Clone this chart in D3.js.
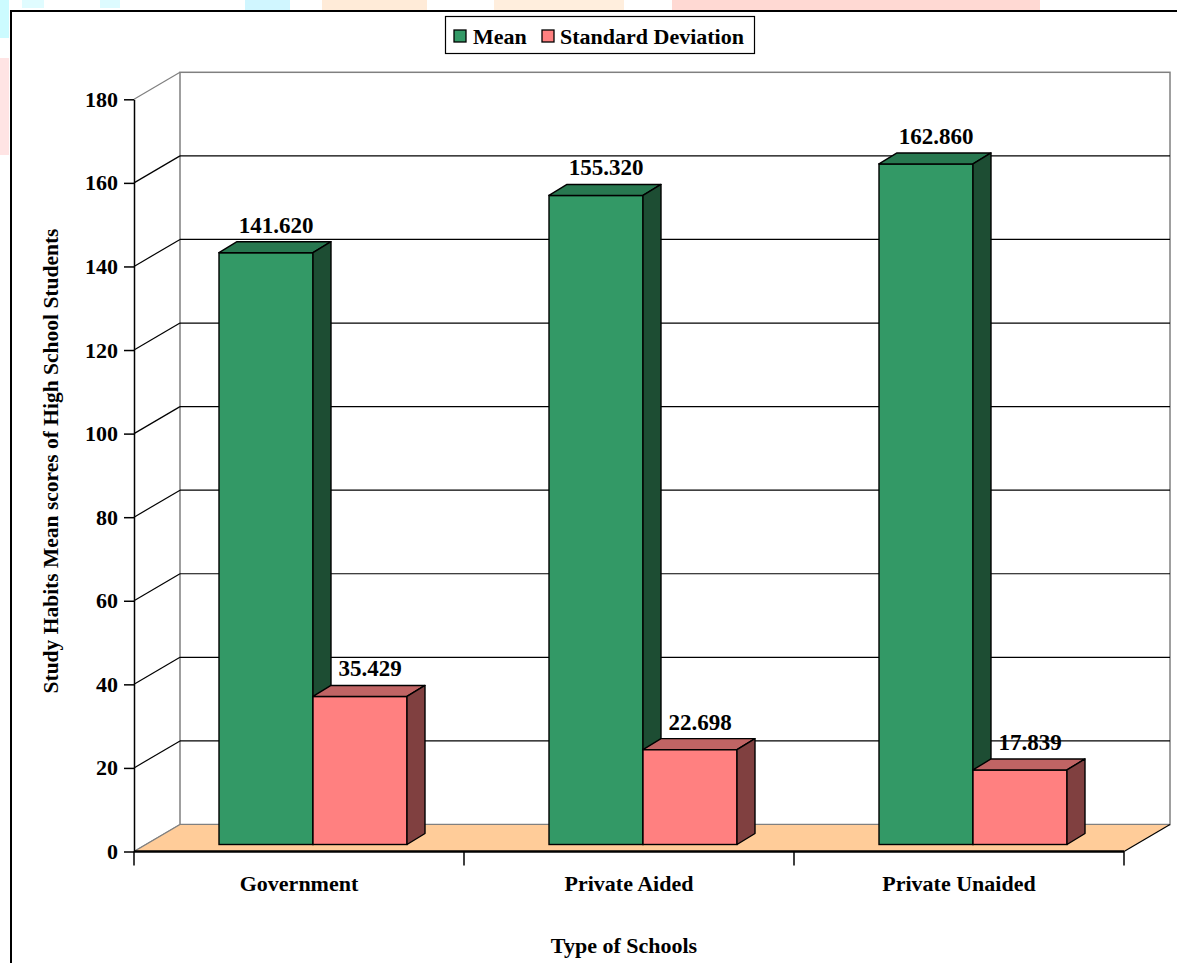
<!DOCTYPE html>
<html>
<head>
<meta charset="utf-8">
<script src="https://cdn.jsdelivr.net/npm/d3@7"></script>
<style>
  html, body { margin: 0; padding: 0; background: #ffffff; }
  svg { display: block; }
  text { font-family: "Liberation Serif", "Times New Roman", serif; font-weight: bold; fill: #000; }
</style>
</head>
<body>
<svg id="chart" width="1177" height="963"></svg>
<script>
// ---- data ----
const categories = ["Government", "Private Aided", "Private Unaided"];
const seriesNames = ["Mean", "Standard Deviation"];
const meanValues = [141.620, 155.320, 162.860];
const sdValues = [35.429, 22.698, 17.839];
const yTicks = [0, 20, 40, 60, 80, 100, 120, 140, 160, 180];
const yTitle = "Study Habits Mean scores of High School Students";
const xTitle = "Type of Schools";

// ---- styles ----
const frontColors = ["#339966", "#FF8080"];
const topColors = ["#287850", "#C06464"];
const sideColors = ["#1D4D33", "#804040"];
const FONT = 22;

const svg = d3.select("#chart");

// background watermark fragments outside the chart frame
const marks = [
  {x: 0, y: 0, w: 9, h: 38, c: "#CCFBFF"},
  {x: 0, y: 58, w: 9, h: 97, c: "#FFE4E4"},
  {x: 22, y: 0, w: 22, h: 8, c: "#E0FCFF"},
  {x: 100, y: 0, w: 20, h: 8, c: "#DDFBFF"},
  {x: 245, y: 0, w: 45, h: 11, c: "#D0F6FF"},
  {x: 322, y: 0, w: 105, h: 11, c: "#FFEBD8"},
  {x: 494, y: 0, w: 130, h: 11, c: "#FFEEDD"},
  {x: 672, y: 0, w: 368, h: 11, c: "#FFD9D3"}
];
svg.selectAll("rect.wm").data(marks).join("rect").attr("class", "wm")
  .attr("x", d => d.x).attr("y", d => d.y).attr("width", d => d.w).attr("height", d => d.h)
  .attr("fill", d => d.c);

// frame
svg.append("path").attr("d", "M11,963 L11,11 L1177,11")
  .attr("fill", "none").attr("stroke", "#000").attr("stroke-width", 2);

// ---- scales ----
const y = d3.scaleLinear().domain([0, 180]).range([851.5, 99.3]);
const x = d3.scaleBand().domain(categories).range([134, 1124]);
const WX = 46, WY = -27;   // wall depth
const BX = 18, BY = -11;   // bar depth
const FX = 14, FY = -7;    // bar front plane offset
const barW = 94;

const x0 = x.range()[0], x1 = x.range()[1];
const g = svg.append("g");

// back wall
g.append("rect").attr("x", x0 + WX).attr("y", y(180) + WY)
  .attr("width", x1 - x0).attr("height", y(0) - y(180))
  .attr("fill", "#fff").attr("stroke", "#808080").attr("stroke-width", 1.5);

// gridlines (back wall + side diagonals)
yTicks.forEach(t => {
  const col = (t === 0 || t === 180) ? "#808080" : "#000";
  if (t !== 0 && t !== 180) {
    g.append("line").attr("x1", x0 + WX).attr("x2", x1 + WX)
      .attr("y1", y(t) + WY).attr("y2", y(t) + WY)
      .attr("stroke", "#000").attr("stroke-width", 1.2);
  }
  g.append("line").attr("x1", x0).attr("y1", y(t))
    .attr("x2", x0 + WX).attr("y2", y(t) + WY)
    .attr("stroke", col).attr("stroke-width", 1.2);
});

// floor
g.append("path")
  .attr("d", `M${x0},${y(0)} L${x0 + WX},${y(0) + WY} L${x1 + WX},${y(0) + WY} L${x1},${y(0)} Z`)
  .attr("fill", "#FFCC99").attr("stroke", "none");
g.append("line").attr("x1", x0 + WX).attr("x2", x1 + WX).attr("y1", y(0) + WY).attr("y2", y(0) + WY)
  .attr("stroke", "#808080").attr("stroke-width", 1.2);
g.append("line").attr("x1", x1).attr("y1", y(0)).attr("x2", x1 + WX).attr("y2", y(0) + WY)
  .attr("stroke", "#000").attr("stroke-width", 1.2);
g.append("line").attr("x1", x0).attr("y1", y(0)).attr("x2", x0 + WX).attr("y2", y(0) + WY)
  .attr("stroke", "#808080").attr("stroke-width", 1.2);

// bars
const series = [meanValues, sdValues];
const bars = [];
categories.forEach((c, ci) => {
  series.forEach((vals, si) => {
    bars.push({c, ci, si, v: vals[ci]});
  });
});
const barG = g.append("g");
bars.forEach(b => {
  const bx0 = x(b.c) + (x.bandwidth() - 2 * barW) / 2 + FX + b.si * barW;
  const bx1 = bx0 + barW;
  const yt = y(b.v) + FY, yb = y(0) + FY;
  b.bx0 = bx0; b.bx1 = bx1; b.yt = yt;
  const bg = barG.append("g");
  bg.append("rect").attr("x", bx0).attr("y", yt).attr("width", barW).attr("height", yb - yt)
    .attr("fill", frontColors[b.si]).attr("stroke", "#000").attr("stroke-width", 1.4);
  bg.append("path")
    .attr("d", `M${bx0},${yt} L${bx0 + BX},${yt + BY} L${bx1 + BX},${yt + BY} L${bx1},${yt} Z`)
    .attr("fill", topColors[b.si]).attr("stroke", "#000").attr("stroke-width", 1.4).attr("stroke-linejoin", "round");
  bg.append("path")
    .attr("d", `M${bx1},${yt} L${bx1 + BX},${yt + BY} L${bx1 + BX},${yb + BY} L${bx1},${yb} Z`)
    .attr("fill", sideColors[b.si]).attr("stroke", "#000").attr("stroke-width", 1.4).attr("stroke-linejoin", "round");
});

// value labels
g.selectAll("text.val").data(bars).join("text").attr("class", "val")
  .attr("x", d => (d.bx0 + d.bx1) / 2 + BX / 2 + 1)
  .attr("y", d => d.yt + BY - 9)
  .attr("text-anchor", "middle").attr("font-size", 23)
  .text(d => d.v.toFixed(3));

// floor front line
g.append("line").attr("x1", x0).attr("x2", x1).attr("y1", y(0)).attr("y2", y(0))
  .attr("stroke", "#000").attr("stroke-width", 2.5);

// y axis
const yAxis = d3.axisLeft(y).tickValues(yTicks).tickSize(10).tickSizeOuter(0).tickPadding(6)
  .tickFormat(d3.format("d"));
const ya = svg.append("g").attr("transform", `translate(${x0},0)`).call(yAxis);
ya.select(".domain").attr("stroke", "#000").attr("stroke-width", 1.5);
ya.selectAll(".tick line").attr("stroke", "#000").attr("stroke-width", 1.5);
ya.selectAll(".tick text").attr("font-size", FONT).attr("font-family", "Liberation Serif")
  .attr("font-weight", "bold").attr("fill", "#000");

// x category ticks and labels
const tickXs = categories.map(c => x(c)).concat([x1]);
svg.selectAll("line.xt").data(tickXs).join("line").attr("class", "xt")
  .attr("x1", d => d).attr("x2", d => d).attr("y1", y(0)).attr("y2", y(0) + 14)
  .attr("stroke", "#000").attr("stroke-width", 1.5);
svg.selectAll("text.cat").data(categories).join("text").attr("class", "cat")
  .attr("x", d => x(d) + x.bandwidth() / 2).attr("y", 891)
  .attr("text-anchor", "middle").attr("font-size", FONT).text(d => d);

// axis titles
svg.append("text").attr("x", (x0 + x1) / 2 - 5).attr("y", 953)
  .attr("text-anchor", "middle").attr("font-size", FONT).text(xTitle);
svg.append("text").attr("transform", "translate(58,461) rotate(-90)")
  .attr("text-anchor", "middle").attr("font-size", 21.5).text(yTitle);

// legend
const lg = svg.append("g");
lg.append("rect").attr("x", 445.5).attr("y", 16.5).attr("width", 309).attr("height", 37)
  .attr("fill", "#fff").attr("stroke", "#000").attr("stroke-width", 1.2);
const legendItems = [
  {name: seriesNames[0], sx: 454, tx: 473},
  {name: seriesNames[1], sx: 542, tx: 560}
];
legendItems.forEach((it, i) => {
  lg.append("rect").attr("x", it.sx).attr("y", 30).attr("width", 12).attr("height", 12)
    .attr("fill", frontColors[i]).attr("stroke", "#000").attr("stroke-width", 1.3);
  lg.append("text").attr("x", it.tx).attr("y", 44).attr("font-size", FONT).text(it.name);
});
</script>
</body>
</html>
